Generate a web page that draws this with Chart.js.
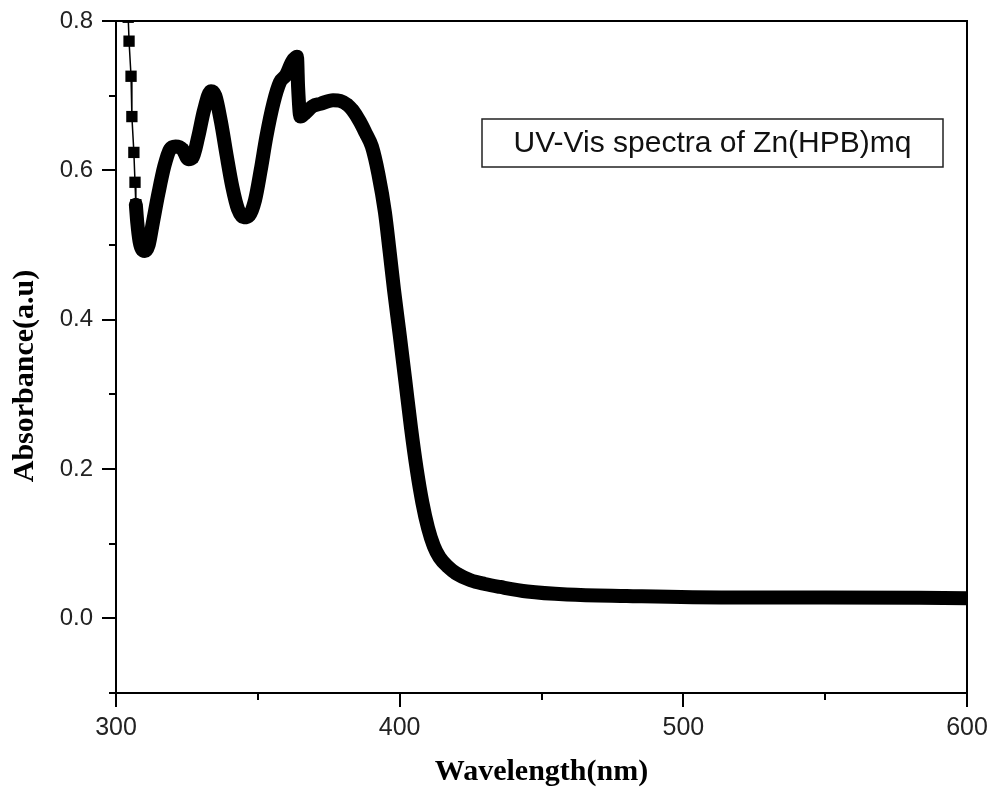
<!DOCTYPE html>
<html><head><meta charset="utf-8">
<script src="https://cdn.jsdelivr.net/npm/chart.js@4.4.1/dist/chart.umd.min.js"></script>
<style>html,body{margin:0;padding:0;background:#fff;}canvas{display:block;}</style>
</head><body>
<canvas id="c" width="1004" height="794"></canvas>
<script>
// ---- data ----
const headWavelength = [304.3, 304.6, 305.3, 305.6, 306.3, 306.7, 307.0];
const headAbsorbance = [0.805, 0.773, 0.726, 0.672, 0.624, 0.584, 0.554];

const wavelength = [307.0, 307.5, 308.3, 309.2, 310.2, 311.5, 313, 315, 317, 319, 321, 323.5, 325.5, 327, 329, 331, 333.5, 335, 337, 339, 341, 343, 345, 347, 349, 351, 353, 355.5, 357.8, 360, 362, 363.8, 364.2, 365, 366.5, 369.4, 372, 376.5, 379, 381.5, 383.5, 386, 388, 390.2, 392.5, 394.8, 396.5, 398, 400, 402, 404, 406, 408, 410, 412, 414, 417, 420, 425, 430, 435.4, 445, 459, 480, 516, 550, 600];
const absorbance = [0.554, 0.530, 0.505, 0.494, 0.492, 0.500, 0.530, 0.570, 0.605, 0.628, 0.632, 0.628, 0.615, 0.617, 0.645, 0.680, 0.706, 0.700, 0.665, 0.620, 0.578, 0.548, 0.537, 0.540, 0.560, 0.600, 0.645, 0.690, 0.718, 0.728, 0.745, 0.752, 0.711, 0.672, 0.676, 0.686, 0.689, 0.694, 0.693, 0.688, 0.680, 0.665, 0.650, 0.632, 0.595, 0.544, 0.490, 0.440, 0.380, 0.318, 0.255, 0.200, 0.155, 0.121, 0.097, 0.082, 0.069, 0.060, 0.051, 0.046, 0.042, 0.036, 0.032, 0.030, 0.028, 0.028, 0.027];

const xMajorTicks = [300, 400, 500, 600];
const xMinorTicks = [350, 450, 550];
const yMajorTicks = [0.0, 0.2, 0.4, 0.6, 0.8];
const yMinorTicks = [-0.1, 0.1, 0.3, 0.5, 0.7];
const xTitle = 'Wavelength(nm)';
const yTitle = 'Absorbance(a.u)';
const legendText = 'UV-Vis spectra of Zn(HPB)mq';

const toPts = (xs, ys) => xs.map((x, i) => ({x: x, y: ys[i]}));

const sans = '"Liberation Sans", Arial, sans-serif';
const serif = '"Liberation Serif", "Times New Roman", serif';

const decor = {
  id: 'decor',
  afterDraw(chart) {
    const ctx = chart.ctx, ca = chart.chartArea;
    const xs = chart.scales.x, ys = chart.scales.y;
    ctx.save();
    ctx.strokeStyle = '#000';
    ctx.lineWidth = 2;
    ctx.strokeRect(ca.left, ca.top, ca.right - ca.left, ca.bottom - ca.top);
    ctx.beginPath();
    xMajorTicks.forEach(v => { const p = Math.round(xs.getPixelForValue(v)); ctx.moveTo(p, ca.bottom); ctx.lineTo(p, ca.bottom + 14); });
    xMinorTicks.forEach(v => { const p = Math.round(xs.getPixelForValue(v)); ctx.moveTo(p, ca.bottom); ctx.lineTo(p, ca.bottom + 7); });
    yMajorTicks.forEach(v => { const p = Math.round(ys.getPixelForValue(v)); ctx.moveTo(ca.left, p); ctx.lineTo(ca.left - 14, p); });
    yMinorTicks.forEach(v => { const p = Math.round(ys.getPixelForValue(v)); ctx.moveTo(ca.left, p); ctx.lineTo(ca.left - 7, p); });
    ctx.stroke();
    // legend box
    const bx = ca.left + 366, by = ca.top + 98, bw = 461, bh = 48;
    ctx.lineWidth = 1.5;
    ctx.strokeStyle = '#222';
    ctx.strokeRect(bx, by, bw, bh);
    ctx.fillStyle = '#111';
    ctx.font = '30px ' + sans;
    ctx.textAlign = 'center';
    ctx.textBaseline = 'middle';
    ctx.fillText(legendText, bx + bw / 2, by + bh / 2 + 1);
    // y title
    ctx.translate(25, (ca.top + ca.bottom) / 2 + 19);
    ctx.rotate(-Math.PI / 2);
    ctx.font = 'bold 30px ' + serif;
    ctx.fillStyle = '#000';
    ctx.fillText(yTitle, 0, 0);
    ctx.restore();
  }
};

new Chart(document.getElementById('c'), {
  type: 'scatter',
  data: {
    datasets: [
      {
        data: toPts(headWavelength, headAbsorbance),
        showLine: true,
        borderColor: '#000',
        borderWidth: 1.5,
        backgroundColor: '#000',
        pointStyle: 'rect',
        pointRadius: 8,
        pointBorderWidth: 0
      },
      {
        data: toPts(wavelength, absorbance),
        showLine: true,
        borderColor: '#000',
        borderWidth: 14,
        borderJoinStyle: 'round',
        borderCapStyle: 'round',
        cubicInterpolationMode: 'monotone',
        backgroundColor: '#000',
        pointStyle: 'rect',
        pointRadius: 7,
        pointBorderWidth: 0
      }
    ]
  },
  options: {
    responsive: false,
    animation: false,
    devicePixelRatio: 1,
    layout: {padding: {top: 21, right: 37, left: 0, bottom: 0}},
    plugins: {legend: {display: false}, tooltip: {enabled: false}},
    scales: {
      x: {
        type: 'linear', min: 300, max: 600,
        afterBuildTicks: s => { s.ticks = xMajorTicks.map(v => ({value: v})); },
        afterFit: s => { s.height = 101; s.paddingLeft = 0; s.paddingRight = 0; },
        grid: {display: false, drawTicks: false},
        border: {display: false},
        ticks: {font: {family: sans, size: 25}, color: '#222', padding: 20, maxRotation: 0, autoSkip: false},
        title: {display: true, text: xTitle, color: '#000', font: {family: serif, size: 30, weight: 'bold'}, padding: {top: 0, bottom: 4}}
      },
      y: {
        type: 'linear', min: -0.1, max: 0.8,
        afterBuildTicks: s => { s.ticks = yMajorTicks.map(v => ({value: v})); },
        afterFit: s => { s.width = 116; s.paddingTop = 0; s.paddingBottom = 0; },
        grid: {display: false, drawTicks: false},
        border: {display: false},
        ticks: {font: {family: sans, size: 24}, color: '#222', padding: 23, autoSkip: false, callback: v => Number(v).toFixed(1)}
      }
    }
  },
  plugins: [decor]
});
</script>
</body></html>
